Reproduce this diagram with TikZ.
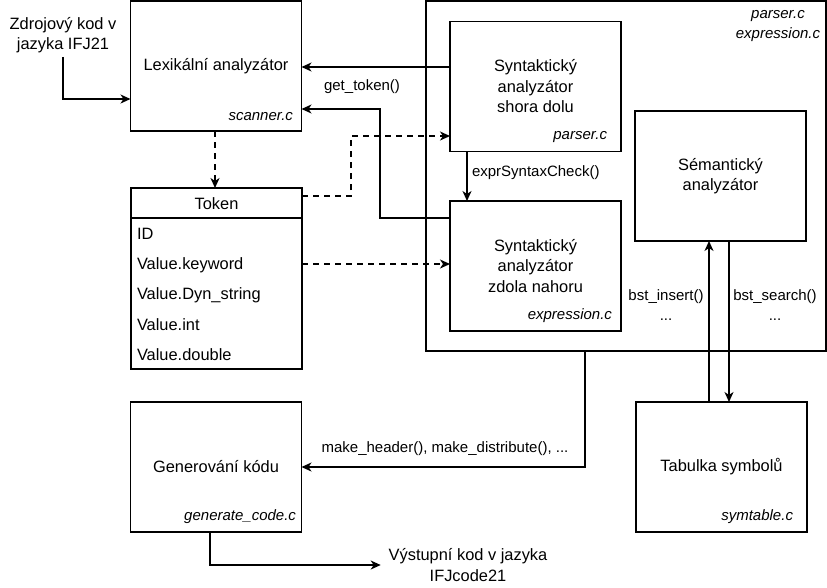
\documentclass[tikz,border=0pt]{standalone}
\usepackage{fontspec}
\setmainfont{Liberation Sans}
\usetikzlibrary{arrows.meta,calc}
\begin{document}
\begin{tikzpicture}[x=1pt,y=-1pt,
  every node/.style={inner sep=0pt, outer sep=0pt},
  mainfont/.style={font=\fontsize{16.4}{20.5}\selectfont},
  smallfont/.style={font=\fontsize{15}{20}\selectfont},
  filefont/.style={font=\fontsize{15}{20}\selectfont\itshape},
  box/.style={draw, line width=1.5pt, mainfont, align=center, minimum width=171pt, minimum height=130pt},
  conn/.style={line width=1.5pt, -{Stealth[length=10pt,width=9pt,inset=3pt]}},
  dconn/.style={conn, dash pattern=on 6pt off 5pt},
  lbl/.style={smallfont, align=center},
  file/.style={filefont, anchor=east}
]
\useasboundingbox (0,0) rectangle (827,587);

% big frame
\node[draw, line width=1.5pt, minimum width=400pt, minimum height=350pt] (big) at (626,176) {};
\node[filefont, align=center] (bigf) at (778,26) {parser.c\\expression.c};

% boxes
\node[box] (lex) at (216,66) {Lexikální analyzátor};
\node[file] (lexf) at (293,117) {scanner.c};

\node[box] (sd) at (535.5,86.5) {Syntaktický\\analyzátor\\shora dolu};
\node[file] (sdf) at (607,137) {parser.c};

\node[box] (zn) at (535.5,266) {Syntaktický\\analyzátor\\zdola nahoru};
\node[file] (znf) at (612,316) {expression.c};

\node[box] (sem) at (720.5,176) {Sémantický\\analyzátor};

\node[box] (gen) at (216,467) {Generování kódu};
\node[file] (genf) at (296,517) {generate\_code.c};

\node[box] (tab) at (721.5,467) {Tabulka symbolů};
\node[file] (tabf) at (793,517) {symtable.c};

% token
\node[draw, line width=1.5pt, minimum width=171pt, minimum height=181pt] (token) at (216.5,278.5) {};
\draw[line width=1.5pt] (token.west |- 0,218) -- (token.east |- 0,218);
\node[mainfont] (tokh) at (216.5,204) {Token};
\node[mainfont, anchor=west] (t1) at (137,234) {ID};
\node[mainfont, anchor=west] (t2) at (137,265) {Value.keyword};
\node[mainfont, anchor=west] (t3) at (137,295) {Value.Dyn\_string};
\node[mainfont, anchor=west] (t4) at (137,325) {Value.int};
\node[mainfont, anchor=west] (t5) at (137,355) {Value.double};

% free texts
\node[mainfont, align=center, inner sep=4pt] (src) at (63,35) {Zdrojový kod v\\jazyka IFJ21};
\node[mainfont, align=center, inner xsep=8pt] (out) at (468,565) {Výstupní kod v jazyka\\IFJcode21};

% connectors
\draw[conn] (src.south) |- ([yshift=-33pt]lex.west);
\draw[conn] (sd.west |- 0,67) -- (lex.east |- 0,67);
\node[lbl] (gtl) at (362,87) {get\_token()};
\draw[conn] (zn.west |- 0,218) -- (380,218) -- (380,109) -- (lex.east |- 0,109);
\draw[dconn] (lex.south -| 215,0) -- (token.north -| 215,0);
\draw[dconn] (token.east |- 0,196) -- (351,196) -- (351,136) -- (sd.west |- 0,136);
\draw[dconn] (token.east |- 0,264) -- (zn.west |- 0,264);
\draw[conn] (sd.south -| 467,0) -- (zn.north -| 467,0);
\node[lbl, anchor=west] (escl) at (472,173) {exprSyntaxCheck()};
\draw[conn] (tab.north -| 709,0) -- (sem.south -| 709,0);
\draw[conn] (sem.south -| 729,0) -- (tab.north -| 729,0);
\node[lbl] (bil) at (666,305) {bst\_insert()\\...};
\node[lbl] (bsl) at (775,305) {bst\_search()\\...};
\draw[conn] (big.south -| 585,0) |- (gen.east);
\node[lbl] (mhl) at (445,449) {make\_header(), make\_distribute(), ...};
\draw[conn] (gen.south -| 210,0) |- (out.west);
\end{tikzpicture}
\end{document}
